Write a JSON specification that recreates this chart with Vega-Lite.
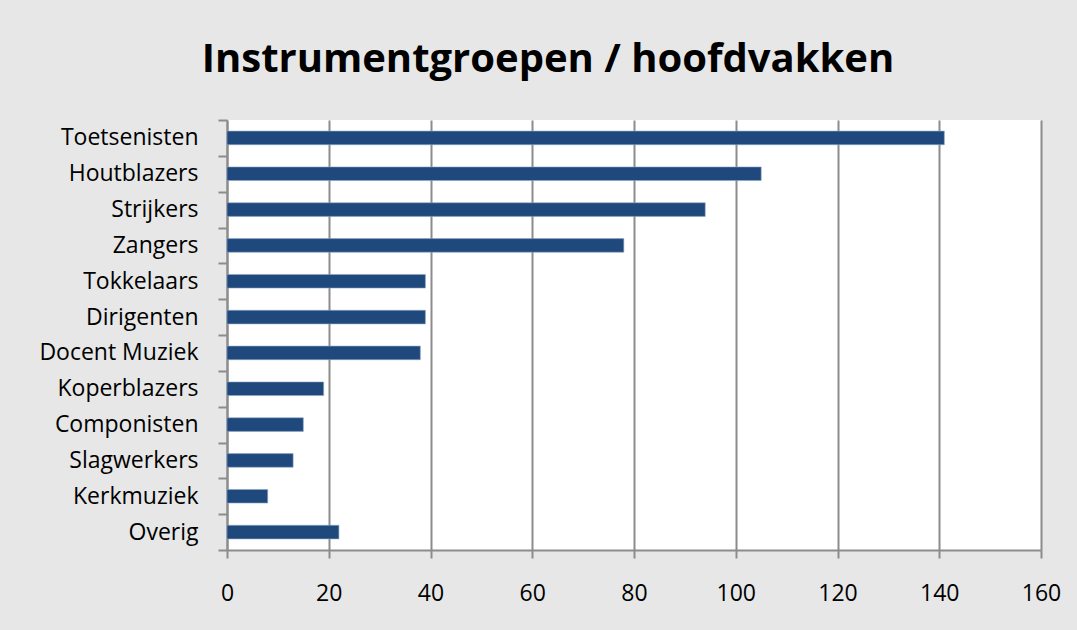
{
  "$schema": "https://vega.github.io/schema/vega-lite/v6.json",
  "autosize": {"type": "none"},
  "width": 814,
  "height": 430,
  "padding": {"left": 227, "top": 120, "right": 36, "bottom": 80},
  "background": "#e7e7e7",
  "title": {
    "text": "Instrumentgroepen / hoofdvakken",
    "font": "Open Sans",
    "fontSize": 40,
    "fontWeight": "bold",
    "color": "#000000",
    "anchor": "middle",
    "frame": "group",
    "dx": -86,
    "offset": 29
  },
  "config": {
    "view": {"fill": "#ffffff", "stroke": null},
    "axis": {"labelFont": "Open Sans", "labelFontSize": 23, "labelColor": "#000000"}
  },
  "data": {
    "values": [
      {"groep": "Toetsenisten", "aantal": 141},
      {"groep": "Houtblazers", "aantal": 105},
      {"groep": "Strijkers", "aantal": 94},
      {"groep": "Zangers", "aantal": 78},
      {"groep": "Tokkelaars", "aantal": 39},
      {"groep": "Dirigenten", "aantal": 39},
      {"groep": "Docent Muziek", "aantal": 38},
      {"groep": "Koperblazers", "aantal": 19},
      {"groep": "Componisten", "aantal": 15},
      {"groep": "Slagwerkers", "aantal": 13},
      {"groep": "Kerkmuziek", "aantal": 8},
      {"groep": "Overig", "aantal": 22}
    ]
  },
  "mark": {"type": "bar", "color": "#1f497d", "stroke": "#8fa6c4", "strokeWidth": 0.6, "height": {"band": 0.38}},
  "encoding": {
    "y": {
      "field": "groep",
      "type": "nominal",
      "sort": null,
      "scale": {"paddingInner": 0, "paddingOuter": 0},
      "axis": {
        "title": null,
        "tickBand": "extent",
        "grid": false,
        "domainColor": "#8c8c8c",
        "domainWidth": 2,
        "tickColor": "#8c8c8c",
        "tickWidth": 2,
        "tickSize": 9,
        "labelPadding": 20
      }
    },
    "x": {
      "field": "aantal",
      "type": "quantitative",
      "scale": {"domain": [0, 160], "nice": false},
      "axis": {
        "title": null,
        "values": [0, 20, 40, 60, 80, 100, 120, 140, 160],
        "labelFlush": false,
        "grid": true,
        "gridColor": "#8c8c8c",
        "gridWidth": 2,
        "gridOpacity": 1,
        "domainColor": "#8c8c8c",
        "domainWidth": 2,
        "tickColor": "#8c8c8c",
        "tickWidth": 2,
        "tickSize": 8,
        "labelPadding": 24
      }
    }
  }
}
